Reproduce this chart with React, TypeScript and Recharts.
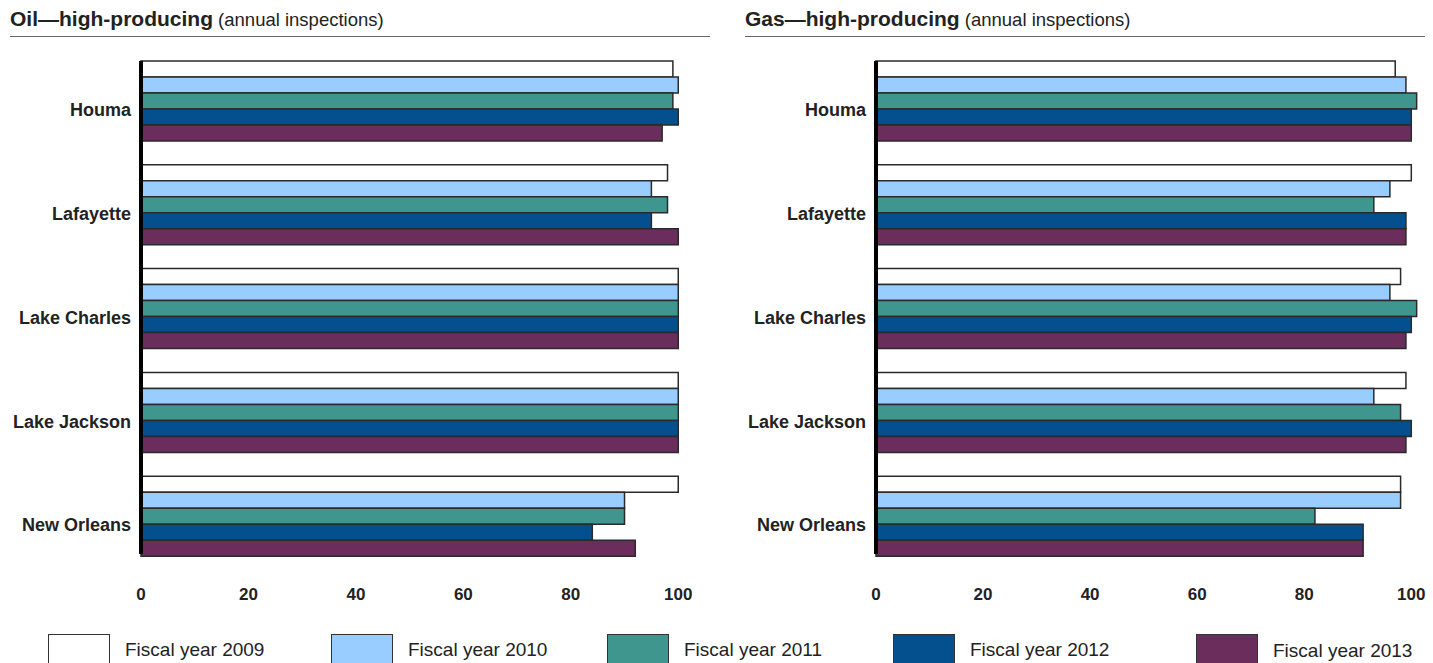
import { Bar, BarChart, XAxis, YAxis } from "recharts";

const offices = ["Houma", "Lafayette", "Lake Charles", "Lake Jackson", "New Orleans"];

const seriesKeys = ["fy2009", "fy2010", "fy2011", "fy2012", "fy2013"];
const seriesNames = [
  "Fiscal year 2009",
  "Fiscal year 2010",
  "Fiscal year 2011",
  "Fiscal year 2012",
  "Fiscal year 2013",
];
const seriesColors = ["#ffffff", "#99ccff", "#3f968f", "#04508f", "#6b2d5c"];

// oil, high-producing
const oil2009 = [99, 98, 100, 100, 100];
const oil2010 = [100, 95, 100, 100, 90];
const oil2011 = [99, 98, 100, 100, 90];
const oil2012 = [100, 95, 100, 100, 84];
const oil2013 = [97, 100, 100, 100, 92];

// gas, high-producing
const gas2009 = [97, 100, 98, 99, 98];
const gas2010 = [99, 96, 96, 93, 98];
const gas2011 = [101, 93, 101, 98, 82];
const gas2012 = [100, 99, 100, 100, 91];
const gas2013 = [100, 99, 99, 99, 91];

const xTicks = [0, 20, 40, 60, 80, 100];

const FONT = "'Liberation Sans', Arial, sans-serif";

function buildRows(cols: number[][]) {
  return offices.map((name, i) => {
    const row: Record<string, string | number> = { name };
    seriesKeys.forEach((k, j) => {
      row[k] = cols[j][i];
    });
    return row;
  });
}

const oilData = buildRows([oil2009, oil2010, oil2011, oil2012, oil2013]);
const gasData = buildRows([gas2009, gas2010, gas2011, gas2012, gas2013]);

// labels sit a bit below the middle of each group
function OfficeTick(props: any) {
  const { x, y, payload } = props;
  return (
    <text
      x={x}
      y={y + 10}
      dy="0.355em"
      textAnchor="end"
      fill="#222"
      fontSize={18}
      fontWeight="bold"
      fontFamily={FONT}
    >
      {payload.value}
    </text>
  );
}

type PanelProps = {
  data: Record<string, string | number>[];
  bold: string;
  rest: string;
  left: number;
  width: number;
  axisWidth: number;
  rightMargin: number;
  ruleLeft: number;
  ruleRight: number;
};

function Panel({ data, bold, rest, left, width, axisWidth, rightMargin, ruleLeft, ruleRight }: PanelProps) {
  return (
    <div style={{ position: "absolute", left, top: 0, width, height: 610 }}>
      {/* title + rule */}
      <div
        style={{
          position: "absolute",
          left: ruleLeft,
          top: 7,
          fontFamily: FONT,
          fontSize: 18.5,
          color: "#222",
          whiteSpace: "nowrap",
        }}
      >
        <b style={{ fontSize: 21 }}>{bold}</b>
        {rest}
      </div>
      <div
        style={{
          position: "absolute",
          left: ruleLeft,
          top: 36,
          width: ruleRight - ruleLeft,
          height: 0,
          borderTop: "1.5px solid #666",
        }}
      />
      <BarChart
        width={width}
        height={610}
        data={data}
        layout="vertical"
        margin={{ top: 61, right: rightMargin, bottom: 0, left: 0 }}
        barCategoryGap="12.5%"
        barGap={0}
      >
        <XAxis
          type="number"
          domain={[0, 102]}
          ticks={xTicks}
          axisLine={false}
          tickLine={false}
          tickSize={6}
          tickMargin={28}
          height={56}
          tick={{ fill: "#222", fontSize: 17, fontWeight: "bold", fontFamily: FONT }}
        />
        <YAxis
          type="category"
          dataKey="name"
          width={axisWidth}
          padding={{ top: -13, bottom: -13 }}
          axisLine={{ stroke: "#000", strokeWidth: 4 }}
          tickLine={false}
          tickSize={6}
          tickMargin={4}
          tick={<OfficeTick />}
        />
        {seriesKeys.map((k, j) => (
          <Bar
            key={k}
            dataKey={k}
            name={seriesNames[j]}
            fill={seriesColors[j]}
            stroke="#2a2a2a"
            strokeWidth={1.5}
            isAnimationActive={false}
          />
        ))}
      </BarChart>
    </div>
  );
}

function Legend() {
  const lefts = [48, 331, 607, 893, 1196];
  return (
    <>
      {seriesNames.map((n, j) => (
        <div key={n}>
          <div
            style={{
              position: "absolute",
              left: lefts[j],
              top: 634,
              width: 62,
              height: 40,
              boxSizing: "border-box",
              background: seriesColors[j],
              border: "1.5px solid #333",
            }}
          />
          <div
            style={{
              position: "absolute",
              left: lefts[j] + 77,
              top: j === 4 ? 640 : 639,
              fontFamily: FONT,
              fontSize: 19,
              color: "#222",
              whiteSpace: "nowrap",
            }}
          >
            {n}
          </div>
        </div>
      ))}
    </>
  );
}

export default function App() {
  return (
    <div
      style={{
        position: "absolute",
        left: 0,
        top: 0,
        width: 1433,
        height: 663,
        overflow: "hidden",
        background: "#fff",
      }}
    >
      <Panel
        data={oilData}
        bold="Oil—high-producing"
        rest=" (annual inspections)"
        left={0}
        width={716}
        axisWidth={141}
        rightMargin={27}
        ruleLeft={10}
        ruleRight={710}
      />
      <Panel
        data={gasData}
        bold="Gas—high-producing"
        rest=" (annual inspections)"
        left={716}
        width={717}
        axisWidth={160}
        rightMargin={11}
        ruleLeft={29}
        ruleRight={709}
      />
      <Legend />
    </div>
  );
}
